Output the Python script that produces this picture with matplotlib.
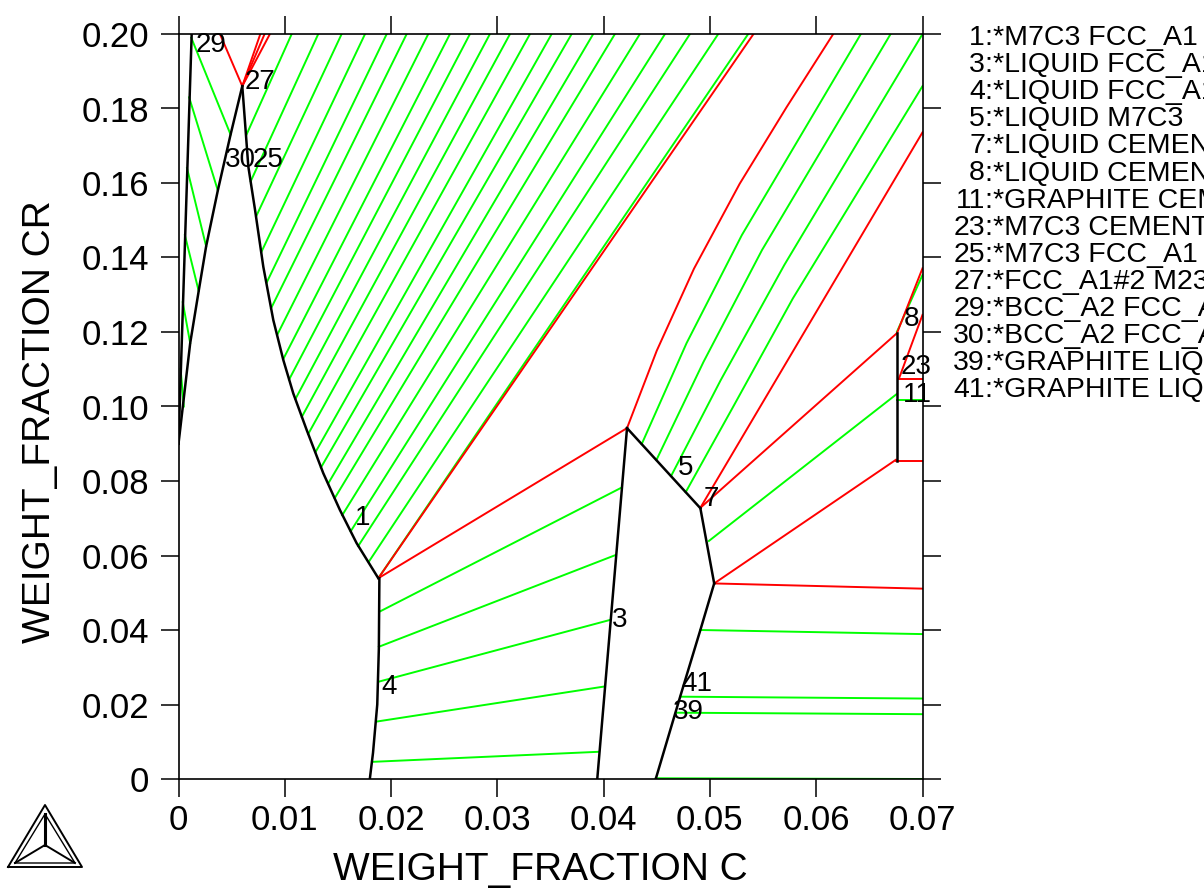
import matplotlib.pyplot as plt

plt.rcParams['font.family'] = ['Liberation Sans', 'DejaVu Sans']

GREEN = '#00ff00'
RED = '#ff0000'

# --- phase boundaries (weight fraction C, weight fraction CR) ---
bcc_x = [0.0, 0.00124]
bcc_y = [0.090, 0.200]
fcc_left_x = [0.0, 0.0011, 0.0019, 0.0026, 0.0037, 0.0049, 0.0060]
fcc_left_y = [0.090, 0.117, 0.131, 0.143, 0.158, 0.173, 0.186]
fcc_m7_x = [0.0060, 0.0061, 0.00657, 0.0072, 0.00798, 0.00892, 0.00986, 0.0108,
            0.01206, 0.01362, 0.01519, 0.01676, 0.0188]
fcc_m7_y = [0.186, 0.1823, 0.1644, 0.1528, 0.1375, 0.1232, 0.1125, 0.1035,
            0.0937, 0.0821, 0.0722, 0.0633, 0.0539]
fcc_liq_x = [0.0189, 0.01885, 0.0187, 0.0183, 0.0180]
fcc_liq_y = [0.0539, 0.0350, 0.0200, 0.0070, 0.0]
liq_fcc_x = [0.0394, 0.0422]
liq_fcc_y = [0.0, 0.0942]
liq_m7_x = [0.0422, 0.0491]
liq_m7_y = [0.0942, 0.0727]
liq_cem_x = [0.0491, 0.0504]
liq_cem_y = [0.0727, 0.0525]
liq_gra_x = [0.0504, 0.0491, 0.0472, 0.0449]
liq_gra_y = [0.0525, 0.0400, 0.0221, 0.0]
cem_x = [0.0676, 0.0676]
cem_y = [0.1197, 0.0855]

# --- M7C3 + FCC_A1 tie lines (lower end on boundary, upper end at top) ---
hatch_bot_x = [0.0064, 0.0068, 0.0073, 0.0078, 0.0083, 0.0087, 0.0093, 0.00985,
               0.0104, 0.0110, 0.0116, 0.0122, 0.0129, 0.0134, 0.0141, 0.0147,
               0.0154, 0.0162, 0.0169, 0.0179, 0.0188]
hatch_bot_y = [0.173, 0.1605, 0.151, 0.1415, 0.1333, 0.1263, 0.1193, 0.1127,
               0.1072, 0.1020, 0.0972, 0.0926, 0.0878, 0.0836, 0.0794, 0.0754,
               0.0708, 0.0665, 0.0625, 0.0583, 0.0539]
hatch_top_x = [0.01065, 0.01315, 0.01535, 0.01755, 0.01959, 0.02147, 0.0235,
               0.02554, 0.02742, 0.0293, 0.03119, 0.03307, 0.03511, 0.03699,
               0.03902, 0.04106, 0.04341, 0.04577, 0.04812, 0.05078, 0.0536]

# --- BCC_A2 + FCC_A1 tie lines ---
bf_x0 = [0.0012, 0.0010, 0.0008, 0.0006, 0.0004, 0.0002]
bf_y0 = [0.199, 0.183, 0.164, 0.146, 0.128, 0.110]
bf_x1 = [0.0049, 0.0037, 0.0026, 0.0019, 0.0011, 0.0005]
bf_y1 = [0.173, 0.158, 0.143, 0.131, 0.117, 0.100]

# --- LIQUID + FCC_A1 tie lines ---
lf_x0 = [0.0189, 0.01885, 0.0188, 0.0186, 0.0182]
lf_y0 = [0.0449, 0.0355, 0.0261, 0.0154, 0.0046]
lf_x1 = [0.0416, 0.0411, 0.0406, 0.0400, 0.0395]
lf_y1 = [0.0781, 0.0601, 0.0427, 0.0248, 0.0073]

# --- LIQUID + M7C3 tie lines ---
lm_x = [[0.04358, 0.0478, 0.0530, 0.0642], [0.04496, 0.0494, 0.0549, 0.0670],
        [0.04634, 0.0510, 0.0570, 0.0700], [0.04772, 0.0522, 0.0578, 0.0700]]
lm_y = [[0.0899, 0.1170, 0.1460, 0.200], [0.0856, 0.1120, 0.1420, 0.200],
        [0.0813, 0.1070, 0.1380, 0.200], [0.0770, 0.1000, 0.1290, 0.186]]

# --- remaining tie lines (x0, y0, x1, y1) ---
green_x0 = [0.0676, 0.0676, 0.0499, 0.0491, 0.0472, 0.0468, 0.0449]
green_y0 = [0.1201, 0.1017, 0.0639, 0.0400, 0.0221, 0.0178, 0.0002]
green_x1 = [0.0700, 0.0700, 0.0676, 0.0700, 0.0700, 0.0700, 0.0700]
green_y1 = [0.1353, 0.1017, 0.1034, 0.0389, 0.0216, 0.0174, 0.0]

red_x0 = [0.0060, 0.0060, 0.0060, 0.0060, 0.0188, 0.0188, 0.0491, 0.0491,
          0.0676, 0.0678, 0.0678, 0.0675, 0.0504, 0.0504]
red_y0 = [0.186, 0.186, 0.186, 0.186, 0.0539, 0.0539, 0.0728, 0.0728,
          0.1197, 0.1076, 0.1073, 0.0855, 0.0525, 0.0525]
red_x1 = [0.0039, 0.0077, 0.0081, 0.0086, 0.0541, 0.0422, 0.0700, 0.0676,
          0.0700, 0.0700, 0.0700, 0.0700, 0.0675, 0.0700]
red_y1 = [0.200, 0.200, 0.200, 0.200, 0.200, 0.0942, 0.1736, 0.1197,
          0.1371, 0.1246, 0.1073, 0.0855, 0.0857, 0.0511]

red_curve_x = [0.0422, 0.0450, 0.0485, 0.0528, 0.0572, 0.0616]
red_curve_y = [0.0942, 0.1150, 0.1370, 0.1598, 0.1803, 0.200]

# --- region labels ---
lab_text = ['29', '27', '30', '25', '1', '4', '3', '5', '7', '8', '23', '11', '41', '39']
lab_x = [0.00165, 0.00626, 0.00440, 0.00695, 0.0166, 0.0191, 0.04075, 0.0470,
         0.04937, 0.0682, 0.0679, 0.0682, 0.04734, 0.04655]
lab_y = [0.197, 0.1871, 0.1662, 0.1662, 0.0701, 0.0248, 0.0427, 0.0835,
         0.0752, 0.1235, 0.1107, 0.1031, 0.0255, 0.0181]

leg_num = ['1', '3', '4', '5', '7', '8', '11', '23', '25', '27', '29', '30', '39', '41']
leg_txt = [':*M7C3 FCC_A1 CEMENTITE', ':*LIQUID FCC_A1 M7C3', ':*LIQUID FCC_A1 CEMENTITE',
           ':*LIQUID M7C3', ':*LIQUID CEMENTITE M7C3', ':*LIQUID CEMENTITE GRAPHITE',
           ':*GRAPHITE CEMENTITE', ':*M7C3 CEMENTITE', ':*M7C3 FCC_A1 FCC_A1#2',
           ':*FCC_A1#2 M23C6', ':*BCC_A2 FCC_A1 M23C6', ':*BCC_A2 FCC_A1 M7C3',
           ':*GRAPHITE LIQUID FCC_A1', ':*GRAPHITE LIQUID CEMENTITE']

xticks = [0, 0.01, 0.02, 0.03, 0.04, 0.05, 0.06, 0.07]
xtick_labels = ['0', '0.01', '0.02', '0.03', '0.04', '0.05', '0.06', '0.07']
yticks = [0, 0.02, 0.04, 0.06, 0.08, 0.10, 0.12, 0.14, 0.16, 0.18, 0.20]
ytick_labels = ['0', '0.02', '0.04', '0.06', '0.08', '0.10', '0.12', '0.14',
                '0.16', '0.18', '0.20']

fig = plt.figure(figsize=(12.04, 8.96), dpi=100)
ax = fig.add_axes([178.5 / 1204, 1 - 779 / 896, 744 / 1204, 745 / 896])

lw_tie = 1.4
lw_b = 1.8

for i in range(len(hatch_top_x)):
    ax.plot([hatch_bot_x[i], hatch_top_x[i]], [hatch_bot_y[i], 0.2], color=GREEN, lw=lw_tie)
for i in range(len(bf_x0)):
    ax.plot([bf_x0[i], bf_x1[i]], [bf_y0[i], bf_y1[i]], color=GREEN, lw=lw_tie)
for i in range(len(lf_x0)):
    ax.plot([lf_x0[i], lf_x1[i]], [lf_y0[i], lf_y1[i]], color=GREEN, lw=lw_tie)
for xs, ys in zip(lm_x, lm_y):
    ax.plot(xs, ys, color=GREEN, lw=lw_tie)
for i in range(len(green_x0)):
    ax.plot([green_x0[i], green_x1[i]], [green_y0[i], green_y1[i]], color=GREEN, lw=lw_tie)
for i in range(len(red_x0)):
    ax.plot([red_x0[i], red_x1[i]], [red_y0[i], red_y1[i]], color=RED, lw=lw_tie)
ax.plot(red_curve_x, red_curve_y, color=RED, lw=lw_tie)

for xs, ys in [(bcc_x, bcc_y), (fcc_left_x, fcc_left_y), (fcc_m7_x, fcc_m7_y),
               (fcc_liq_x, fcc_liq_y), (liq_fcc_x, liq_fcc_y), (liq_m7_x, liq_m7_y),
               (liq_cem_x, liq_cem_y), (liq_gra_x, liq_gra_y), (cem_x, cem_y)]:
    ax.plot(xs, ys, color='black', lw=lw_b)

for t, x, y in zip(lab_text, lab_x, lab_y):
    ax.text(x, y, t, fontsize=20, ha='left', va='center', color='black')

ax.set_xlim(0, 0.07)
ax.set_ylim(0, 0.2)
ax.set_xticks(xticks)
ax.set_xticklabels(xtick_labels)
ax.set_yticks(yticks)
ax.set_yticklabels(ytick_labels)
ax.tick_params(direction='out', length=13, width=1.1, labelsize=25,
               top=True, right=True, colors='black')
ax.tick_params(axis='x', pad=5)
ax.tick_params(axis='y', pad=8)
for s in ax.spines.values():
    s.set_linewidth(1.2)

fig.text(540 / 1204, 1 - 870 / 896, 'WEIGHT_FRACTION C', fontsize=28,
         ha='center', va='center')
fig.text(40 / 1204, 1 - 422 / 896, 'WEIGHT_FRACTION CR', fontsize=28,
         ha='center', va='center', rotation=90)

# legend text, cut off by the figure edge
for i, (n, t) in enumerate(zip(leg_num, leg_txt)):
    yy = 1 - (38 + i * 27.1) / 896
    fig.text(985 / 1204, yy, n, fontsize=20.5, ha='right', va='center')
    fig.text(985 / 1204, yy, t, fontsize=20.5, ha='left', va='center')

# Thermo-Calc logo
logo = fig.add_axes([0, 0, 1, 1], zorder=-1)
logo.set_xlim(0, 1204)
logo.set_ylim(896, 0)
logo.axis('off')
logo.plot([8, 82, 45, 8], [867, 867, 805, 867], color='black', lw=1.4)
logo.plot([15, 75, 45, 15], [863, 863, 814, 863], color='black', lw=1.0)
logo.plot([45, 45], [814, 845], color='black', lw=2.2)
logo.plot([45, 15], [845, 863], color='black', lw=1.4)
logo.plot([45, 75], [845, 863], color='black', lw=1.4)

fig.savefig('out.png', dpi=100)
